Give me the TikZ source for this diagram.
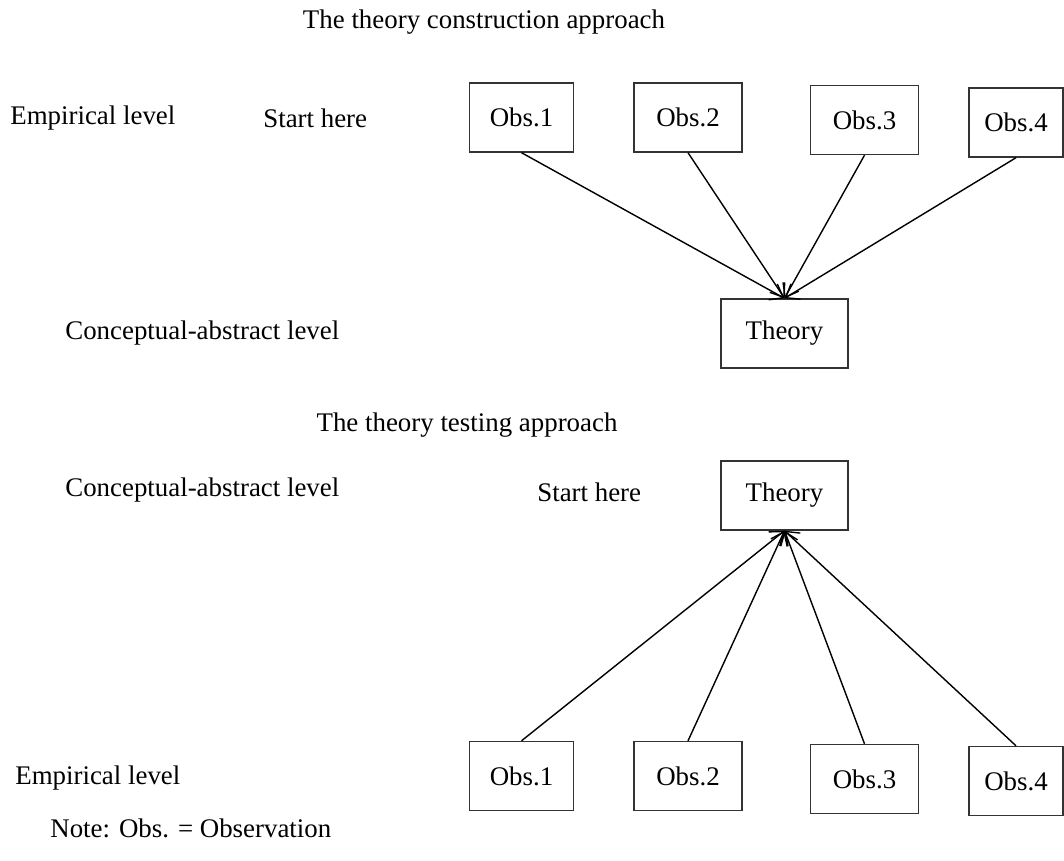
\documentclass[tikz,border=0pt]{standalone}
\usepackage{fontspec}
\setmainfont{Liberation Serif}
\usetikzlibrary{arrows.meta}

\begin{document}
\begin{tikzpicture}[x=0.02cm, y=-0.02cm,
        font=\fontsize{15.3}{18}\selectfont,
        obs/.style={draw=black!80, line width=0.8pt, minimum width=2.16cm, minimum height=1.38cm, inner sep=0pt},
        thy/.style={obs, minimum width=2.54cm},
        lbl/.style={anchor=west, inner sep=0pt},
        arr/.style={-{Straight Barb[length=2.4mm, width=3.6mm]}, line width=0.8pt}]
      \useasboundingbox (0,0) rectangle (1064,861);
      % construction: observations first, theory below
      \node[inner sep=0pt] (t1) at (484,22) {The theory construction approach};
      \node[lbl] (emp1) at (10,118) {Empirical level};
      \node[lbl] (st1) at (263,118) {Start here};
      \node[obs, minimum width=2.08cm] (a1) at (521.5,117.5) {Obs.1};
      \node[obs] (a2) at (688,117.5) {Obs.2};
      \node[obs] (a3) at (864.5,120) {Obs.3};
      \node[obs, minimum width=1.88cm] (a4) at (1016,122.5) {Obs.4};
      \node[lbl] (con1) at (65,333) {Conceptual-abstract level};
      \node[thy] (th1) at (784.5,333.5) {Theory};
      \draw[arr] (a1.south) -- (th1.north);
      \draw[arr] (a2.south) -- (th1.north);
      \draw[arr] (a3.south) -- (th1.north);
      \draw[arr] (a4.south) -- (th1.north);
      % testing: theory first, observations below
      \node[inner sep=0pt] (t2) at (467,425) {The theory testing approach};
      \node[lbl] (con2) at (65,490) {Conceptual-abstract level};
      \node[lbl] (st2) at (537,492) {Start here};
      \node[thy] (th2) at (784.5,495.5) {Theory};
      \node[lbl] (emp2) at (15,778) {Empirical level};
      \node[obs, minimum width=2.08cm] (b1) at (521.5,776) {Obs.1};
      \node[obs] (b2) at (688,776) {Obs.2};
      \node[obs] (b3) at (864.5,779) {Obs.3};
      \node[obs, minimum width=1.88cm] (b4) at (1016,781) {Obs.4};
      \draw[arr] (b1.north) -- (th2.south);
      \draw[arr] (b2.north) -- (th2.south);
      \draw[arr] (b3.north) -- (th2.south);
      \draw[arr] (b4.north) -- (th2.south);
      \node[lbl] (note) at (50,828) {Note: Obs. = Observation};
      \end{tikzpicture}
\end{document}
